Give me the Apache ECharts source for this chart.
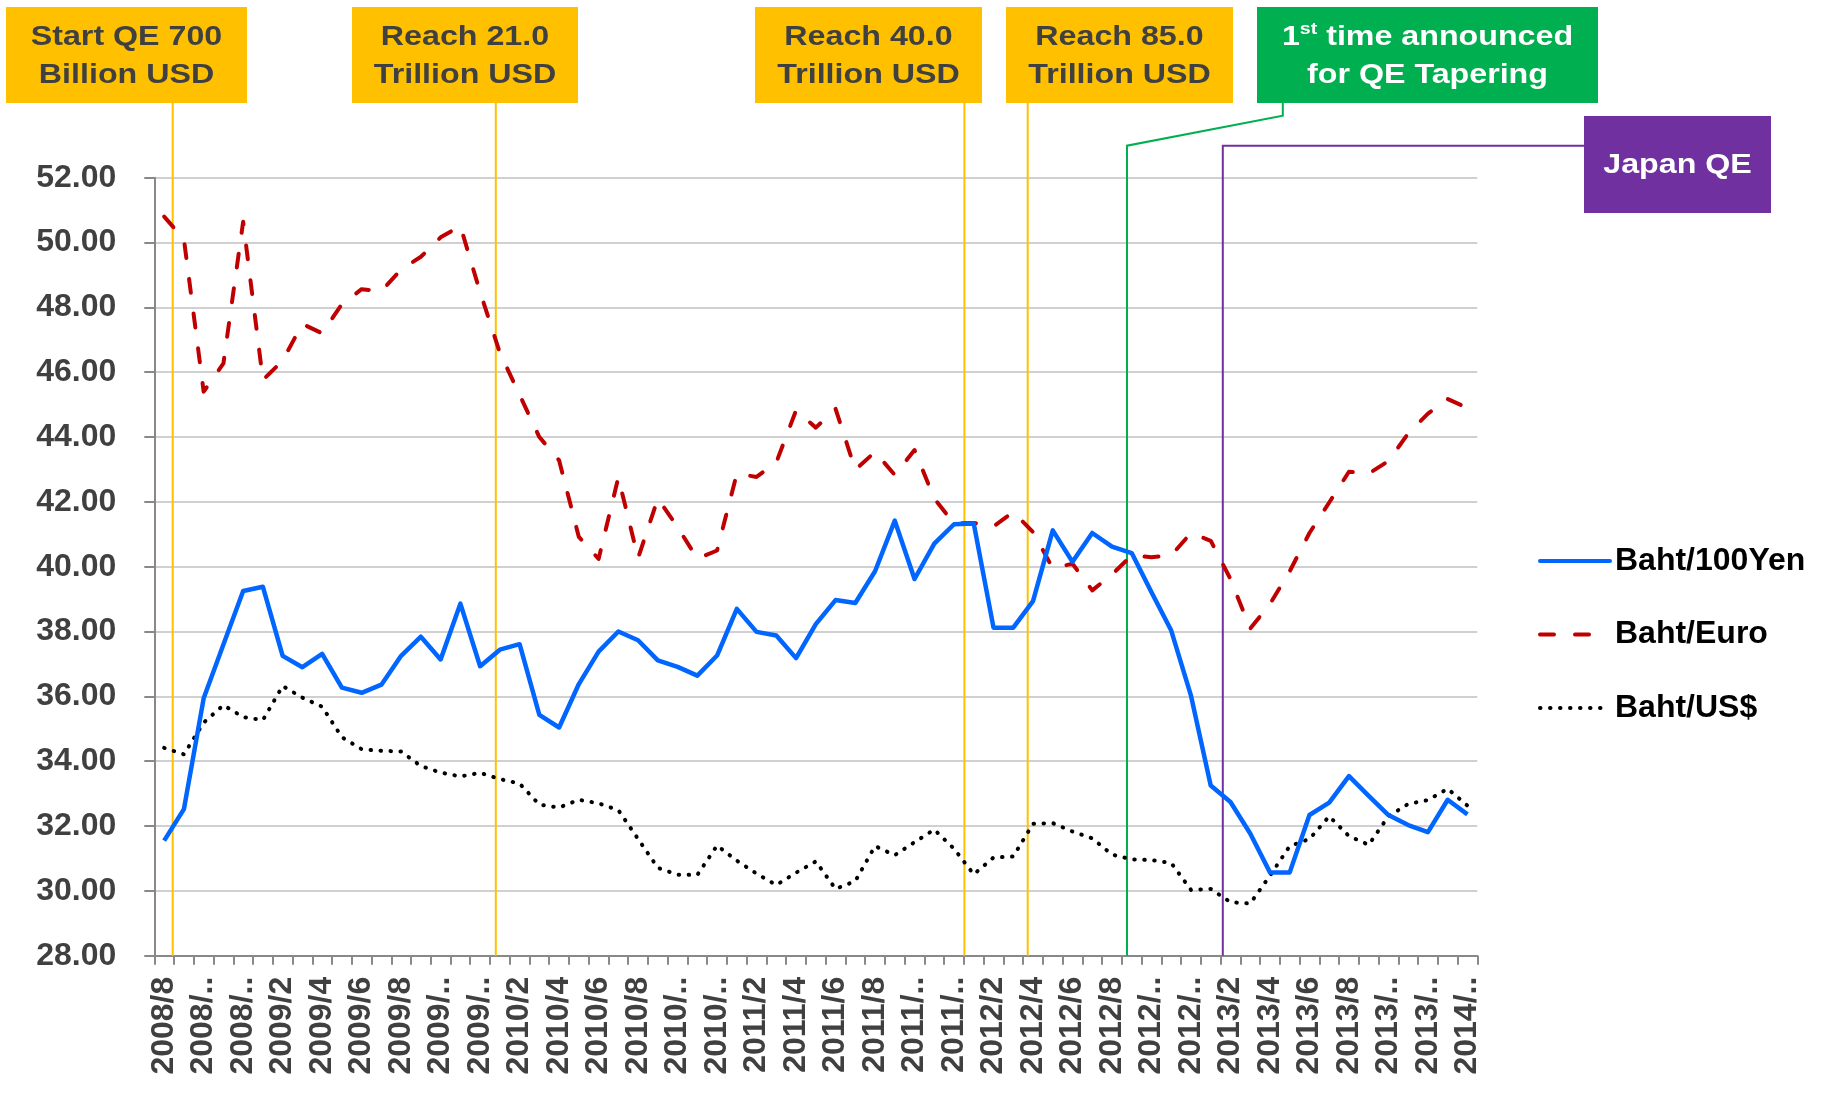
<!DOCTYPE html>
<html>
<head>
<meta charset="utf-8">
<script src="https://cdn.jsdelivr.net/npm/echarts@6/dist/echarts.min.js"></script>
<style>
html, body { margin: 0; padding: 0; background: #fff; }
#main { width: 1845px; height: 1096px; }
</style>
</head>
<body>
<div id="main"></div>
<script>
// monthly categories, 2008/8 .. 2014/2
var months = [
	'2008/8', '2008/9', '2008/10', '2008/11', '2008/12',
	'2009/1', '2009/2', '2009/3', '2009/4', '2009/5', '2009/6', '2009/7', '2009/8', '2009/9', '2009/10', '2009/11', '2009/12',
	'2010/1', '2010/2', '2010/3', '2010/4', '2010/5', '2010/6', '2010/7', '2010/8', '2010/9', '2010/10', '2010/11', '2010/12',
	'2011/1', '2011/2', '2011/3', '2011/4', '2011/5', '2011/6', '2011/7', '2011/8', '2011/9', '2011/10', '2011/11', '2011/12',
	'2012/1', '2012/2', '2012/3', '2012/4', '2012/5', '2012/6', '2012/7', '2012/8', '2012/9', '2012/10', '2012/11', '2012/12',
	'2013/1', '2013/2', '2013/3', '2013/4', '2013/5', '2013/6', '2013/7', '2013/8', '2013/9', '2013/10', '2013/11', '2013/12',
	'2014/1', '2014/2'
];

// Baht/100Yen
var yen = [
	31.55, 32.52, 35.94, 37.60, 39.25,
	39.38, 37.25, 36.90, 37.31, 36.27, 36.11, 36.36, 37.25, 37.84, 37.14, 38.86, 36.93,
	37.44, 37.61, 35.43, 35.04, 36.38, 37.38, 38.00, 37.73, 37.11, 36.91, 36.64, 37.26,
	38.70, 37.99, 37.88, 37.18, 38.23, 38.97, 38.88, 39.86, 41.42, 39.62, 40.71, 41.31,
	41.33, 38.12, 38.12, 38.94, 41.12, 40.15, 41.04, 40.62, 40.42, 39.21, 38.03, 36.02,
	33.25, 32.74, 31.77, 30.57, 30.57, 32.34, 32.72, 33.54, 32.93, 32.34, 32.03, 31.81,
	32.81, 32.36
];

// Baht/Euro
var euro = [
	50.80, 50.10, 45.40, 46.27, 50.64,
	45.76, 46.36, 47.49, 47.20, 48.10, 48.56, 48.50, 49.17, 49.56, 50.16, 50.51, 48.47,
	46.60, 45.30, 44.00, 43.28, 40.92, 40.24, 42.75, 40.27, 42.10, 41.22, 40.25, 40.50,
	42.87, 42.77, 43.22, 44.82, 44.29, 44.87, 42.99, 43.54, 42.83, 43.60, 42.10, 41.33,
	41.35, 41.24, 41.69, 41.07, 39.95, 40.09, 39.27, 39.76, 40.35, 40.29, 40.35, 41.04,
	40.80, 39.62, 38.09, 38.85, 39.86, 41.04, 41.98, 42.93, 42.87, 43.26, 44.11, 44.72,
	45.17, 44.90
];

// Baht/US$
var usd = [
	34.41, 34.21, 35.19, 35.73, 35.36,
	35.27, 36.32, 35.96, 35.68, 34.74, 34.37, 34.32, 34.30, 33.85, 33.65, 33.53, 33.64,
	33.45, 33.31, 32.66, 32.57, 32.81, 32.70, 32.49, 31.60, 30.71, 30.50, 30.49, 31.40,
	30.93, 30.53, 30.18, 30.56, 30.91, 30.06, 30.30, 31.38, 31.10, 31.50, 31.89, 31.30,
	30.51, 31.03, 31.06, 32.07, 32.09, 31.83, 31.62, 31.12, 30.97, 30.95, 30.86, 30.03,
	30.06, 29.65, 29.61, 30.47, 31.38, 31.60, 32.30, 31.69, 31.42, 32.30, 32.68, 32.80,
	33.15, 32.63
];

var yMin = 28, yMax = 52, yStep = 2;

var FONT = '"Liberation Sans", Arial, sans-serif';
var AXIS_Y = 955.7; // bottom of the plot, where annotation lines end

// annotation boxes (PowerPoint style shapes on top of the chart)
function box(x, y, w, h, fill, text, color, rich) {
	var els = [{
		type : 'rect',
		shape : { x : x, y : y, width : w, height : h },
		style : { fill : fill },
		z : 5
	}];
	var st = {
		text : text,
		x : 0,
		y : 0,
		align : 'center',
		verticalAlign : 'middle',
		fill : color,
		font : 'bold 28px ' + FONT,
		lineHeight : 38
	};
	if (rich) st.rich = rich;
	// the source picture is a little stretched sideways
	els.push({ type : 'text', x : x + w / 2, y : y + h / 2 + 1, scaleX : 1.15, style : st, z : 6 });
	return els;
}
function vline(x, y1, color) {
	return {
		type : 'line',
		shape : { x1 : x, y1 : y1, x2 : x, y2 : AXIS_Y },
		style : { stroke : color, lineWidth : 2 },
		z : 1
	};
}

var gold = '#FFC000', green = '#00B050', purple = '#7030A0', boxText = '#404040';
var graphics = [];
graphics = graphics.concat(box(6, 7, 241, 96, gold, 'Start QE 700\nBillion USD', boxText));
graphics = graphics.concat(box(352, 7, 226, 96, gold, 'Reach 21.0\nTrillion USD', boxText));
graphics = graphics.concat(box(755, 7, 227, 96, gold, 'Reach 40.0\nTrillion USD', boxText));
graphics = graphics.concat(box(1006, 7, 227, 96, gold, 'Reach 85.0\nTrillion USD', boxText));
graphics = graphics.concat(box(1257, 7, 341, 96, green,
	'{n|1}{s|st}{n| time announced}\n{n|for QE Tapering}', '#fff', {
		n : { fontSize : 28, fontWeight : 'bold', fontFamily : FONT, fill : '#fff', lineHeight : 38 },
		s : { fontSize : 17, fontWeight : 'bold', fontFamily : FONT, fill : '#fff', lineHeight : 38, verticalAlign : 'top', padding : [3, 0, 0, 0] }
	}));
graphics = graphics.concat(box(1584, 116, 187, 97, purple, 'Japan QE', '#fff'));
graphics.push(vline(172.7, 103, gold));
graphics.push(vline(495.8, 103, gold));
graphics.push(vline(964.4, 103, gold));
graphics.push(vline(1027.7, 103, gold));
graphics.push({
	type : 'polyline',
	shape : { points : [[1282.8, 103], [1282.8, 115.7], [1127, 145.7], [1127, AXIS_Y]] },
	style : { stroke : green, lineWidth : 2, fill : null },
	z : 1
});
graphics.push({
	type : 'polyline',
	shape : { points : [[1584, 145.7], [1222.8, 145.7], [1222.8, AXIS_Y]] },
	style : { stroke : purple, lineWidth : 2, fill : null },
	z : 1
});

var labelStyle = { fontFamily : FONT, fontWeight : 'bold', fontSize : 32, color : '#404040' };

var option = {
	backgroundColor : '#fff',
	animation : false,
	textStyle : { fontFamily : FONT },
	grid : { left : 154.3, right : 367.7, top : 177.7, bottom : 140.3, containLabel : false },
	legend : {
		orient : 'vertical',
		left : 1533,
		top : 540,
		itemWidth : 70,
		itemHeight : 32,
		itemGap : 41.5,
		itemStyle : { opacity : 0, borderWidth : 0 }, // hide the marker dot, keep the line
		lineStyle : { width : 4, cap : 'round' },
		textStyle : { fontFamily : FONT, fontWeight : 'bold', fontSize : 32, color : '#000' },
		data : ['Baht/100Yen', 'Baht/Euro', 'Baht/US$']
	},
	xAxis : {
		type : 'category',
		data : months,
		boundaryGap : true,
		axisLine : { lineStyle : { color : '#898989', width : 2 } },
		axisTick : { show : true, interval : 0, length : 9, lineStyle : { color : '#898989', width : 2 } },
		axisLabel : Object.assign({
			interval : 1,
			rotate : 90,
			margin : 21,
			formatter : function(v, i) {
				// excel clips the long month labels
				if (v.length > 6 || i === months.length - 1) return v.slice(0, 5) + '..';
				return v;
			}
		}, labelStyle),
		splitLine : { show : false }
	},
	yAxis : {
		type : 'value',
		min : yMin,
		max : yMax,
		interval : yStep,
		axisLine : { show : true, lineStyle : { color : '#898989', width : 2 } },
		axisTick : { show : true, length : 10, lineStyle : { color : '#898989', width : 2 } },
		axisLabel : Object.assign({
			margin : 38,
			formatter : function(v) { return v.toFixed(2); }
		}, labelStyle),
		splitLine : { show : true, lineStyle : { color : '#C0C0C0', width : 1.5 } }
	},
	series : [
		{
			name : 'Baht/100Yen',
			type : 'line',
			data : yen,
			symbol : 'none',
			z : 4,
			lineStyle : { color : '#0066FF', width : 4.5, join : 'round' },
			itemStyle : { color : '#0066FF' }
		},
		{
			name : 'Baht/Euro',
			type : 'line',
			data : euro,
			symbol : 'none',
			z : 3,
			lineStyle : { color : '#C00000', width : 4, type : [14, 21], cap : 'round', join : 'round' },
			itemStyle : { color : '#C00000' }
		},
		{
			name : 'Baht/US$',
			type : 'line',
			data : usd,
			symbol : 'none',
			z : 3,
			lineStyle : { color : '#000', width : 4, type : [0.5, 9.5], cap : 'round' },
			itemStyle : { color : '#000' }
		}
	],
	graphic : { elements : graphics }
};

var chart = echarts.init(document.getElementById('main'), null, { renderer : 'canvas' });
chart.setOption(option);
</script>
</body>
</html>
